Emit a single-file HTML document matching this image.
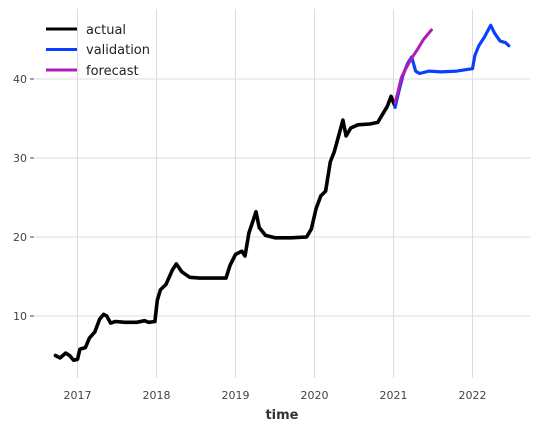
<!DOCTYPE html>
<html><head><meta charset="utf-8"><style>
body{margin:0;background:#fff;}
svg{display:block;font-family:"DejaVu Sans","Liberation Sans",sans-serif;}
</style></head><body>
<svg id="chart" width="540" height="431" viewBox="0 0 540 431">
<g id="grid"></g>
<g id="axes"></g>
<g id="series"></g>
<text x="282" y="419" text-anchor="middle" font-size="13" font-weight="bold" fill="#333">time</text>
<g>
 <g><line x1="46" y1="29" x2="77" y2="29" stroke="#000" stroke-width="3"/><text x="86" y="34" font-size="13" fill="#222">actual</text></g>
 <g><line x1="46" y1="49.5" x2="77" y2="49.5" stroke="#0b3fff" stroke-width="3"/><text x="86" y="54" font-size="13" fill="#222">validation</text></g>
 <g><line x1="46" y1="70" x2="77" y2="70" stroke="#b31bb8" stroke-width="3"/><text x="86" y="75" font-size="13" fill="#222">forecast</text></g>
</g>
</svg>
<script>
const xTicks=[2017,2018,2019,2020,2021,2022];
const yTicks=[10,20,30,40];
const actualT=[2016.72,2016.78,2016.85,2016.9,2016.95,2017.0,2017.03,2017.1,2017.15,2017.22,2017.28,2017.33,2017.37,2017.42,2017.48,2017.6,2017.75,2017.85,2017.9,2017.98,2018.01,2018.05,2018.12,2018.2,2018.25,2018.32,2018.42,2018.55,2018.75,2018.88,2018.93,2019.0,2019.08,2019.12,2019.17,2019.22,2019.26,2019.3,2019.38,2019.5,2019.7,2019.9,2019.96,2020.02,2020.08,2020.14,2020.2,2020.25,2020.3,2020.36,2020.4,2020.46,2020.55,2020.7,2020.8,2020.86,2020.92,2020.97,2021.0,2021.02];
const actualV=[5.0,4.7,5.3,5.0,4.4,4.5,5.8,6.0,7.2,8.0,9.6,10.2,10.0,9.1,9.3,9.2,9.2,9.4,9.2,9.3,12.0,13.3,14.0,15.8,16.6,15.6,14.9,14.8,14.8,14.8,16.4,17.8,18.2,17.6,20.5,22.0,23.2,21.2,20.2,19.9,19.9,20.0,21.0,23.6,25.2,25.8,29.5,30.8,32.6,34.8,32.8,33.8,34.2,34.3,34.5,35.5,36.5,37.8,37.0,36.6];
const validT=[2021.02,2021.07,2021.12,2021.18,2021.23,2021.28,2021.33,2021.45,2021.6,2021.8,2022.0,2022.03,2022.08,2022.15,2022.23,2022.28,2022.35,2022.42,2022.46];
const validV=[36.4,38.5,40.5,42.0,42.8,41.0,40.7,41.0,40.9,41.0,41.3,43.0,44.2,45.3,46.8,45.8,44.8,44.6,44.2];
const foreT=[2021.02,2021.06,2021.1,2021.15,2021.22,2021.3,2021.38,2021.48];
const foreV=[37.0,38.5,40.2,41.2,42.5,43.7,45.0,46.2];
const NS='http://www.w3.org/2000/svg';
function xs(t){return 77.5+(t-2017)*79;}
function ys(v){return 395-v*7.9;}
const grid=document.getElementById('grid'),axes=document.getElementById('axes'),ser=document.getElementById('series');
function mk(tag,attrs,parent){const e=document.createElementNS(NS,tag);for(const k in attrs)e.setAttribute(k,attrs[k]);parent.appendChild(e);return e;}
xTicks.forEach(t=>{
 const l=mk('line',{x1:xs(t),x2:xs(t),y1:9,y2:378,stroke:'#dcdcdc','stroke-width':1},grid);
 
 
 const tx=mk('text',{x:xs(t),y:399,'text-anchor':'middle','font-size':11,fill:'#444'},axes);
 tx.textContent=t;
 
 
});
yTicks.forEach(v=>{
 const l=mk('line',{x1:35,x2:530,y1:ys(v),y2:ys(v),stroke:'#dcdcdc','stroke-width':1},grid);
 
 
 const tk=mk('line',{x1:30,x2:34,y1:ys(v),y2:ys(v),stroke:'#444','stroke-width':1},axes);
 
 
 const tx=mk('text',{x:27,y:ys(v)+4,'text-anchor':'end','font-size':11,fill:'#444'},axes);
 tx.textContent=v;
 
 
});
function line(T,V,color,name,w){
 const p=T.map((t,i)=>xs(t).toFixed(1)+','+ys(V[i]).toFixed(1)).join(' ');
 const e=mk('polyline',{points:p,fill:'none',stroke:color,'stroke-width':w,'stroke-linejoin':'round','stroke-linecap':'round'},ser);
 
 
}
line(actualT,actualV,'#000','actual-line',3.6);
line(validT,validV,'#0b3fff','validation-line',3.2);
line(foreT,foreV,'#b31bb8','forecast-line',3);
</script>
</body></html>
